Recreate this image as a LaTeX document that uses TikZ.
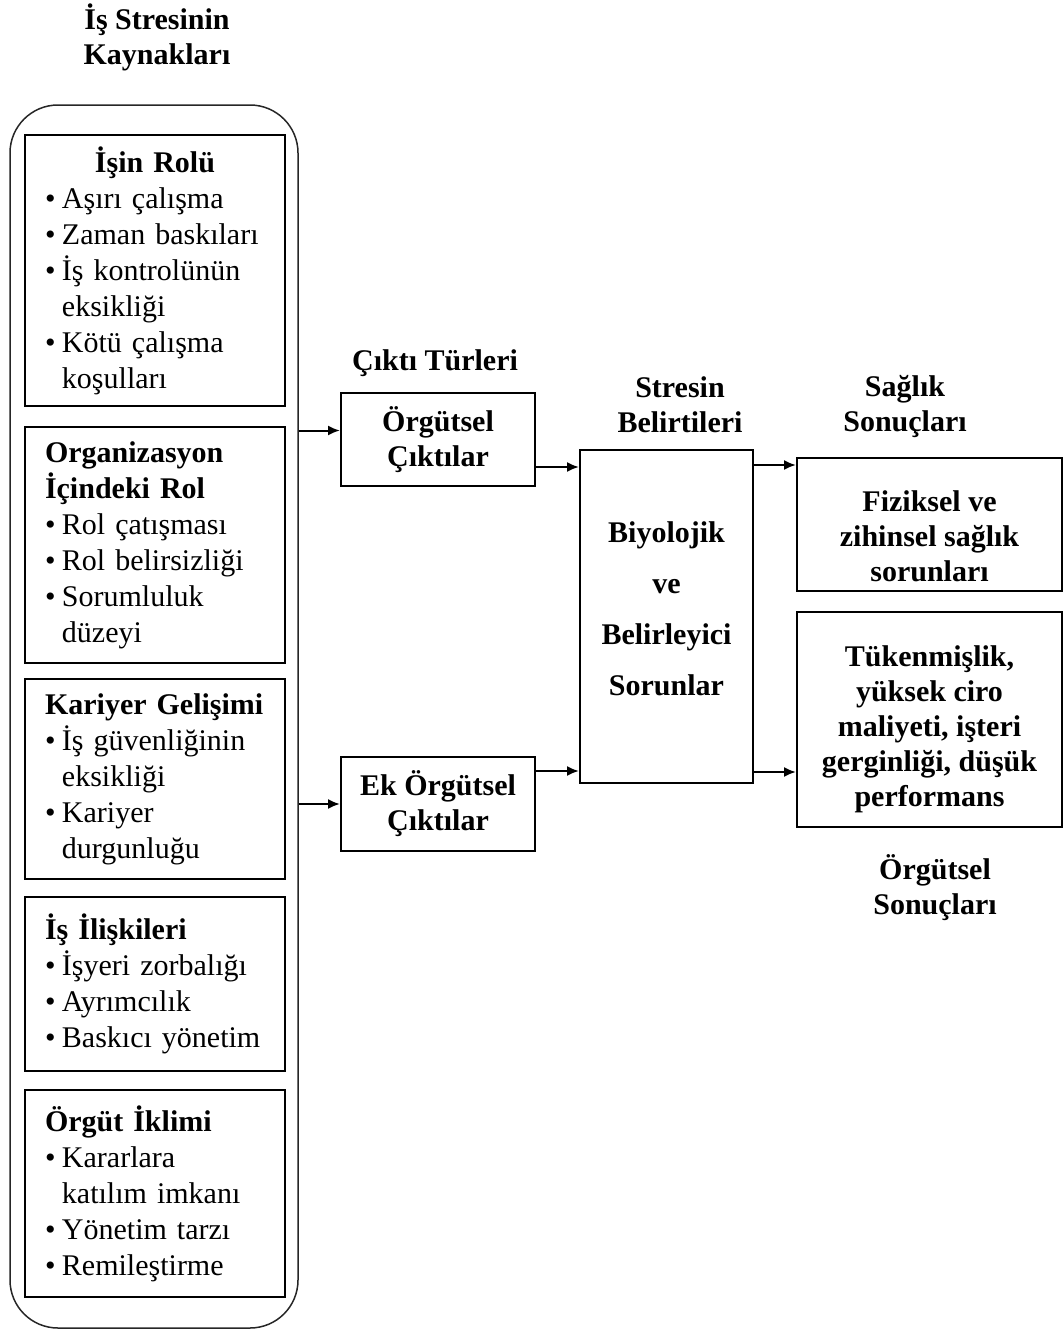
\documentclass[tikz,border=0pt]{standalone}
\usepackage{fontspec}
\setmainfont{Liberation Serif}
\usetikzlibrary{calc,arrows.meta}
\newcommand{\itm}{\makebox[17pt][l]{\textbullet}}
\newcommand{\ind}{\hspace*{17pt}}
\tikzset{
	txt/.style={font=\bfseries\fontsize{30}{35}\selectfont,align=center,inner sep=0pt},
	srcbox/.style={draw,line width=2pt,minimum width=260pt,text width=220pt,inner xsep=20pt,align=left,
		font=\fontsize{30}{36}\selectfont},
	outbox/.style={draw,line width=2pt,align=center,inner sep=0pt,font=\bfseries\fontsize{30}{35}\selectfont},
	arr/.style={line width=2pt,-{Latex[length=12pt,width=10pt]}}
}
\begin{document}
\begin{tikzpicture}[x=1pt,y=-1pt]
\useasboundingbox (0,0) rectangle (1063,1330);
%sources
\node[txt] (srcT) at (157,37.5) {İş Stresinin\\Kaynakları};
\node[draw,black!85,line width=1.5pt,rounded corners=48pt,minimum width=288pt,minimum height=1223pt] (src) at (154,716.5) {};
\node[srcbox,minimum height=271pt] (rol) at (155,270.5) {
	\makebox[220pt]{\textbf{İşin Rolü}}\\
	\itm Aşırı çalışma\\
	\itm Zaman baskıları\\
	\itm İş kontrolünün\\
	\ind eksikliği\\
	\itm Kötü çalışma\\
	\ind koşulları};
\node[srcbox,minimum height=236pt] (org) at (155,545) {
	\textbf{Organizasyon}\\
	\textbf{İçindeki Rol}\\
	\itm Rol çatışması\\
	\itm Rol belirsizliği\\
	\itm Sorumluluk\\
	\ind düzeyi};
\node[srcbox,minimum height=200pt] (kar) at (155,779) {
	\textbf{Kariyer Gelişimi}\\
	\itm\makebox[203pt][s]{İş güvenliğinin}\\
	\ind eksikliği\\
	\itm Kariyer\\
	\ind durgunluğu};
\node[srcbox,minimum height=174pt] (ili) at (155,984) {
	\textbf{İş İlişkileri}\\
	\itm İşyeri zorbalığı\\
	\itm Ayrımcılık\\
	\itm Baskıcı yönetim};
\node[srcbox,minimum height=207pt] (ikl) at (155,1193.5) {
	\textbf{Örgüt İklimi}\\
	\itm Kararlara\\
	\ind katılım imkanı\\
	\itm Yönetim tarzı\\
	\itm Remileştirme};
%output types
\node[txt] (ciktiT) at (435,363) {Çıktı Türleri};
\node[outbox,minimum width=194pt,minimum height=93pt] (ortA) at (438,439.5) {Örgütsel\\Çıktılar};
\node[outbox,minimum width=194pt,minimum height=94pt] (ekA) at (438,804) {Ek Örgütsel\\Çıktılar};
%symptoms
\node[txt] (belT) at (680,404.5) {Stresin\\Belirtileri};
\node[outbox,minimum width=173pt,minimum height=333pt] (mid) at (666.5,616.5) {};
\node[txt,font=\bfseries\fontsize{30}{51}\selectfont] (midT) at ([yshift=8]mid.center) {Biyolojik\\ve\\Belirleyici\\Sorunlar};
%results
\node[txt] (sagT) at (905,406.5) {Sağlık\\Sonuçları};
\node[outbox,minimum width=265pt,minimum height=133pt] (sagA) at (929.5,524.5) {};
\node[txt] (sagAT) at ([yshift=-12]sagA.center) {Fiziksel ve\\zihinsel sağlık\\sorunları};
\node[outbox,minimum width=265pt,minimum height=215pt] (sagB) at (929.5,719.5) {};
\node[txt] (sagBT) at ([yshift=-10]sagB.center) {Tükenmişlik,\\yüksek ciro\\maliyeti, işteri\\gerginliği, düşük\\performans};
\node[txt] (orgT) at (935,887.5) {Örgütsel\\Sonuçları};
%arrows
\draw[arr] ([yshift=9]ortA.west -| src.east) -- ([yshift=9]ortA.west);
\draw[arr] (ekA.west -| src.east) -- (ekA.west);
\draw[arr] ([yshift=-27.5]ortA.east) coordinate (p1) -- (p1 -| mid.west);
\draw[arr] ([yshift=33]ekA.east) coordinate (p2) -- (p2 -| mid.west);
\draw[arr] ([yshift=-16]mid.north east) coordinate (p3) -- (p3 -| sagA.west);
\draw[arr] ([yshift=12]mid.south east) coordinate (p4) -- (p4 -| sagB.west);
\end{tikzpicture}
\end{document}
